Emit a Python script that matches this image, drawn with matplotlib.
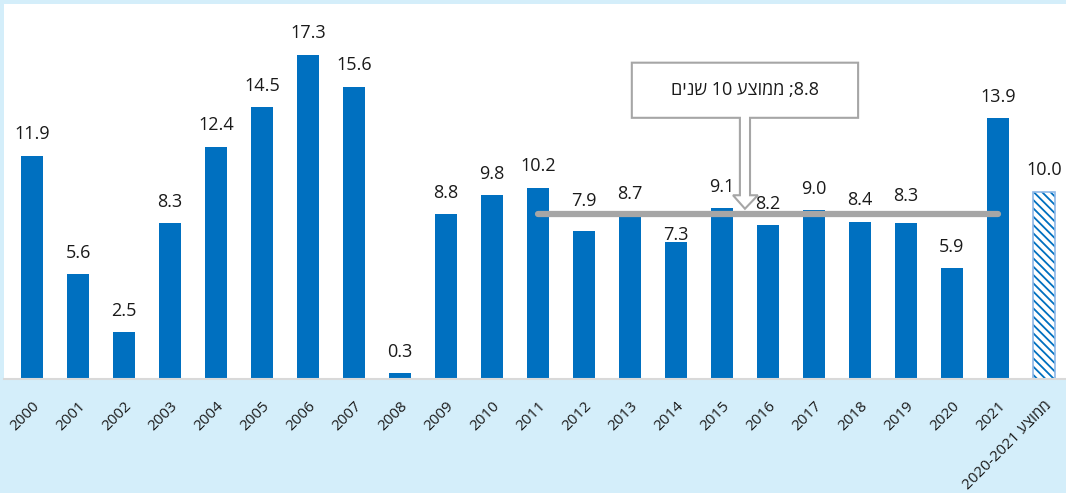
import matplotlib.pyplot as plt
import numpy as np
from matplotlib.patches import Polygon

plt.rcParams['font.family'] = ['Open Sans', 'Noto Sans', 'DejaVu Sans']

years = [str(y) for y in range(2000, 2022)]
# hebrew written in visual order (matplotlib has no bidi)
avg_label = '2020-2021 עצוממ'
values = [11.9, 5.6, 2.5, 8.3, 12.4, 14.5, 17.3, 15.6, 0.3, 8.8, 9.8,
          10.2, 7.9, 8.7, 7.3, 9.1, 8.2, 9.0, 8.4, 8.3, 5.9, 13.9]
avg_value = 10.0
ten_year_avg = 8.8
box_text = 'םינש 10 עצוממ ;8.8'

blue = '#0070C0'
bg = '#D4EEFA'

fig = plt.figure(figsize=(10.66, 4.93), dpi=100, facecolor=bg)
ax = fig.add_axes([4 / 1066, 1 - 379 / 493, 1 - 4 / 1066, 375 / 493])
ax.set_facecolor('white')

x = np.arange(len(years))
ax.bar(x, values, width=0.46, color=blue)
n = len(years)
plt.rcParams['hatch.linewidth'] = 1.3
ax.bar(n, avg_value, width=0.46, color='white', edgecolor=blue,
       hatch='\\\\\\\\', linewidth=0)
ax.bar(n, avg_value, width=0.46, fill=False, edgecolor='#8DB8E8', linewidth=1.2)

# some labels were nudged by hand in the original (to clear the avg line)
nudge = {'2012': 6, '2014': -10, '2019': 4}
for xi, v, lab in zip(list(x) + [n], values + [avg_value], years + [avg_label]):
    ax.annotate(f'{v:.1f}', (xi, v), xytext=(0, 9 + nudge.get(lab, 0)),
                textcoords='offset points', ha='center', va='bottom',
                fontsize=13, color='#1a1a1a', zorder=6)

# 10-year average line (2011-2021)
ax.plot([years.index('2011'), years.index('2021')], [ten_year_avg] * 2,
        color='#A6A6A6', lw=4.5, solid_capstyle='round', zorder=3)

# callout box with arrow
bx0, bx1, by0, by1 = 13.04, 17.96, 13.93, 16.87
sx0, sx1, hx0, hx1, tip = 15.39, 15.61, 15.24, 15.78, 15.5
hy = ten_year_avg + 1.0
ty = ten_year_avg + 0.28
pts = [(bx0, by1), (bx1, by1), (bx1, by0), (sx1, by0), (sx1, hy), (hx1, hy),
       (tip, ty), (hx0, hy), (sx0, hy), (sx0, by0), (bx0, by0)]
ax.add_patch(Polygon(pts, closed=True, facecolor='white', edgecolor='#A6A6A6',
                     lw=1.5, zorder=4))
ax.text((bx0 + bx1) / 2, (by0 + by1) / 2, box_text, ha='center', va='center',
        fontsize=13, color='#1a1a1a', zorder=5)

ax.set_xlim(-0.61, n + 0.48)
ax.set_ylim(0, 20)
ax.set_xticks(list(x) + [n])
ax.set_xticklabels(years + [avg_label], rotation=45, ha='right',
                   rotation_mode='anchor', fontsize=11, color='#1a1a1a')
ax.tick_params(axis='x', length=0, pad=14)
ax.set_yticks([])
for s in ['top', 'left', 'right']:
    ax.spines[s].set_visible(False)
ax.spines['bottom'].set_color('#D9D9D9')
ax.spines['bottom'].set_linewidth(1.5)

fig.savefig('out.png', dpi=100, facecolor=bg)
